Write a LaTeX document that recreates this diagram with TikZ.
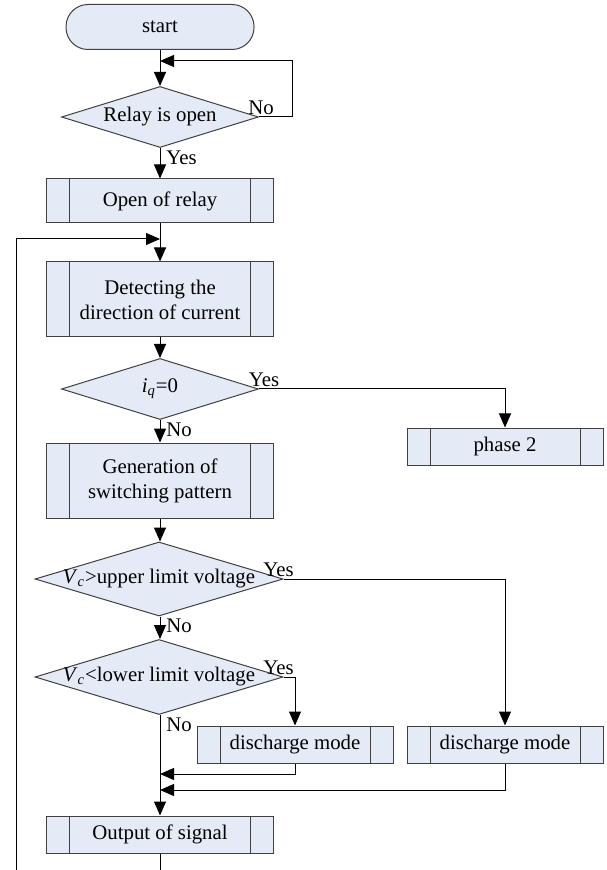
\documentclass[tikz,border=0pt]{standalone}
\usepackage{fontspec}
\setmainfont{Liberation Serif}
\usetikzlibrary{shapes.geometric,arrows.meta}

\definecolor{boxfill}{HTML}{E4EBF6}
\definecolor{boxline}{HTML}{404040}

\newcommand{\itsub}[2]{\textit{#1}\textsubscript{\textit{#2}}}

\tikzset{
  base/.style={draw=boxline, fill=boxfill, line width=0.5pt, inner sep=0pt, align=center,
    font=\fontsize{10.4}{12.5}\selectfont},
  startbox/.style={base, rectangle, rounded corners=11pt, minimum width=94pt, minimum height=22.5pt},
  procbox/.style={base, rectangle, minimum width=113.5pt,
    path picture={
      \draw[boxline, line width=0.5pt]
        ([xshift=11.5pt]path picture bounding box.north west) -- ([xshift=11.5pt]path picture bounding box.south west)
        ([xshift=-11.5pt]path picture bounding box.north east) -- ([xshift=-11.5pt]path picture bounding box.south east);
    }},
  decision/.style={base, diamond},
  flow/.style={draw=black, line width=0.5pt, -{Triangle[length=7pt,width=6pt]}},
  lbl/.style={inner sep=1pt, font=\fontsize{10.4}{12.5}\selectfont}
}

\begin{document}
\begin{tikzpicture}[x=0.5pt, y=-0.5pt]
\useasboundingbox (0,0) rectangle (606,870);

% blocks
\node[startbox] (start) at (160,27) {start};
\node[decision, minimum width=98.5pt, minimum height=30.5pt] (relay) at (160,117) {\makebox[0pt]{Relay is open}};
\node[procbox, minimum height=22pt] (openrelay) at (160,201) {Open of relay};
\node[procbox, minimum height=37.5pt] (detect) at (160,299.5) {Detecting the\\direction of current};
\node[decision, minimum width=98.5pt, minimum height=30.5pt] (iq) at (160,389) {\makebox[0pt]{\itsub{i}{q}=0}};
\node[procbox, minimum width=98pt, minimum height=18.5pt] (phase) at (505,446.5) {phase 2};
\node[procbox, minimum height=37.5pt] (gen) at (160,480.5) {Generation of\\switching pattern};
\node[decision, minimum width=124pt, minimum height=37pt] (upper) at (159,579) {\makebox[0pt]{\itsub{V}{c}>upper limit voltage}};
\node[decision, minimum width=124pt, minimum height=37.5pt] (lower) at (159,677) {\makebox[0pt]{\itsub{V}{c}<lower limit voltage}};
\node[procbox, minimum width=98pt, minimum height=18.5pt] (dischA) at (295,744.5) {discharge mode};
\node[procbox, minimum width=98pt, minimum height=18.5pt] (dischB) at (505,744.5) {discharge mode};
\node[procbox, minimum height=18.5pt] (output) at (160,834.5) {Output of signal};

% joints
\coordinate (loopA) at (160,61);
\coordinate (loopB) at (160,239);
\coordinate (joinA) at (160,774);
\coordinate (joinB) at (160,790);

% connectors
\draw[flow] (start.south) -- (relay.north);
\draw[flow] (relay.east) -- ++(33,0) |- (loopA);
\draw[flow] (relay.south) -- (openrelay.north);
\draw[flow] (openrelay.south) -- (detect.north);
\draw[flow] (output.south) -- ++(0,25) -| (16,239) -- (loopB);
\draw[flow] (detect.south) -- (iq.north);
\draw[flow] (iq.east) -| (phase.north);
\draw[flow] (iq.south) -- (gen.north);
\draw[flow] (gen.south) -- (upper.north -| gen.south);
\draw[flow] (upper.east) -| (dischB.north);
\draw[flow] (upper.south -| gen.south) -- (lower.north -| gen.south);
\draw[flow] (lower.east) -| (dischA.north);
\draw[flow] (lower.south -| gen.south) -- (output.north);
\draw[flow] (dischA.south) |- (joinA);
\draw[flow] (dischB.south) |- (joinB);

% labels
\node[lbl, anchor=south] (noA) at ([xshift=1pt]relay.east) {No};
\node[lbl, anchor=north west] (yesA) at ([xshift=2pt]relay.south) {Yes};
\node[lbl, anchor=south] (yesB) at ([xshift=2.5pt]iq.east) {Yes};
\node[lbl, anchor=north west] (noB) at ([xshift=2pt]iq.south) {No};
\node[lbl, anchor=south] (yesC) at ([xshift=-2.5pt]upper.east) {Yes};
\node[lbl, anchor=north west] (noC) at ([xshift=2.5pt]upper.south) {No};
\node[lbl, anchor=south] (yesD) at ([xshift=-2.5pt]lower.east) {Yes};
\node[lbl, anchor=north west] (noD) at ([xshift=2.5pt]lower.south) {No};
\end{tikzpicture}
\end{document}
